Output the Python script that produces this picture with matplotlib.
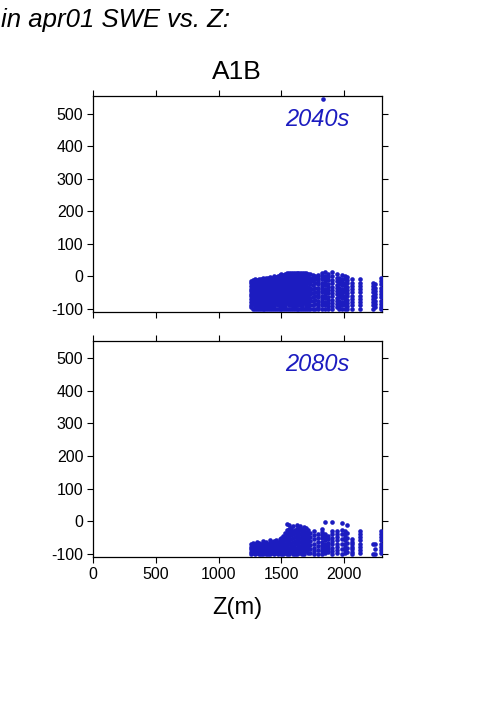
import matplotlib
matplotlib.use("Agg")
import matplotlib.pyplot as plt

plt.rcParams['font.family'] = ['Liberation Sans', 'DejaVu Sans']
plt.rcParams['axes.unicode_minus'] = False

# ---- data (Z in m, change in SWE) ----
z_2040 = [1260, 1275, 1290, 1305, 1320, 1335, 1350, 1365, 1380, 1395, 1410, 1425,
          1440, 1455, 1470, 1485, 1500, 1515, 1530, 1545, 1560, 1575, 1590, 1605,
          1620, 1635, 1650, 1665, 1680, 1695, 1710, 1730, 1750, 1770,
          1793, 1825, 1849, 1873, 1904, 1944, 1960, 1984, 2008, 2024, 2064, 2127,
          2231, 2247, 2290, 1830]
y_2040 = [
    [-15, -22, -30, -38, -45, -55, -62, -70, -78, -88, -95],
    [-12, -20, -28, -35, -42, -50, -58, -66, -75, -85, -100],
    [-10, -18, -25, -33, -40, -48, -57, -65, -72, -80, -92, -100],
    [-12, -20, -27, -35, -44, -52, -60, -70, -78, -87, -95, -100],
    [-8, -16, -24, -32, -40, -47, -55, -63, -73, -82, -90, -100],
    [-10, -18, -26, -34, -43, -50, -58, -67, -76, -85, -94, -100],
    [-6, -14, -22, -30, -38, -46, -54, -62, -70, -79, -88, -100],
    [-9, -17, -25, -33, -41, -49, -57, -66, -74, -83, -92, -100],
    [-4, -12, -20, -28, -36, -44, -52, -60, -69, -77, -86, -95, -100],
    [-7, -15, -23, -31, -39, -47, -55, -64, -72, -81, -90, -100],
    [-2, -10, -18, -26, -34, -42, -50, -59, -67, -76, -85, -94, -100],
    [-5, -13, -21, -29, -37, -45, -54, -62, -71, -80, -89, -100],
    [0, -8, -16, -24, -32, -40, -49, -57, -66, -74, -83, -92, -100],
    [-3, -11, -19, -27, -35, -44, -52, -60, -69, -78, -87, -100],
    [2, -6, -14, -22, -30, -38, -47, -55, -64, -72, -81, -90, -100],
    [4, -4, -12, -20, -28, -36, -45, -53, -62, -70, -79, -88, -100],
    [6, -2, -10, -18, -26, -34, -43, -51, -60, -68, -77, -86, -95, -100],
    [5, -3, -11, -19, -27, -35, -44, -52, -61, -70, -79, -88, -100],
    [8, 0, -8, -16, -24, -32, -41, -49, -58, -66, -75, -84, -93, -100],
    [9, 1, -7, -15, -23, -31, -40, -48, -57, -65, -74, -83, -100],
    [10, 2, -6, -14, -22, -30, -38, -47, -55, -64, -72, -81, -90, -100],
    [10, 3, -5, -13, -21, -29, -37, -46, -54, -63, -71, -80, -89, -100],
    [11, 2, -6, -14, -22, -30, -39, -47, -56, -64, -73, -82, -91, -100],
    [10, 1, -7, -15, -23, -31, -40, -48, -57, -65, -74, -83, -92, -100],
    [11, 3, -5, -13, -21, -29, -38, -46, -55, -63, -72, -81, -90, -100],
    [10, 2, -6, -14, -22, -30, -39, -47, -56, -64, -73, -82, -100],
    [11, 3, -5, -13, -21, -29, -37, -46, -54, -63, -71, -80, -89, -100],
    [10, 1, -7, -15, -23, -31, -40, -48, -57, -65, -74, -83, -92, -100],
    [10, 2, -6, -14, -22, -30, -39, -47, -56, -64, -73, -82, -100],
    [9, 0, -8, -16, -24, -32, -41, -49, -58, -66, -75, -84, -93, -100],
    [8, -2, -12, -22, -32, -42, -52, -62, -72, -82, -92, -100],
    [6, -4, -14, -25, -35, -46, -56, -66, -77, -88, -100],
    [4, -6, -16, -28, -40, -52, -64, -76, -88, -100],
    [2, -10, -22, -35, -48, -60, -72, -85, -100],
    [5, -5, -15, -25, -35, -45, -55, -65, -75, -85, -95, -100],
    [10, 0, -10, -20, -30, -40, -50, -60, -70, -80, -90, -100],
    [12, 2, -8, -18, -28, -38, -48, -58, -68, -78, -88, -100],
    [8, -3, -13, -23, -33, -43, -53, -63, -73, -83, -93, -100],
    [12, 0, -12, -22, -32, -42, -52, -62, -72, -82, -92, -100],
    [6, -6, -16, -26, -36, -46, -56, -66, -76, -86, -96],
    [-5, -15, -25, -35, -45, -55, -65, -75, -85, -95, -100],
    [5, -8, -18, -28, -38, -48, -58, -68, -78, -88, -100],
    [2, -10, -20, -30, -40, -50, -60, -70, -80, -90, -100],
    [-2, -12, -22, -32, -42, -52, -62, -72, -82, -92, -100],
    [-10, -20, -30, -40, -50, -60, -70, -80, -90, -100],
    [-10, -20, -30, -40, -50, -60, -70, -80, -90, -100],
    [-20, -30, -40, -50, -60, -70, -80, -90, -100],
    [-25, -35, -45, -55, -65, -75, -85, -95],
    [-5, -15, -25, -35, -45, -55, -65, -75, -85, -95, -100],
    [545],
]

z_2080 = [1260, 1275, 1290, 1305, 1320, 1335, 1350, 1365, 1380, 1395, 1410, 1425,
          1440, 1455, 1470, 1485, 1500, 1515, 1530, 1545, 1560, 1575, 1590, 1605,
          1620, 1635, 1650, 1665, 1680, 1695, 1710, 1730, 1760, 1790,
          1825, 1849, 1873, 1904, 1944, 1984, 2008, 2024, 2064, 2127, 2231, 2247, 2290]
y_2080 = [
    [-70, -78, -86, -94, -100],
    [-65, -74, -82, -90, -98],
    [-68, -76, -84, -92, -100],
    [-62, -70, -79, -88, -96],
    [-66, -75, -83, -91, -100],
    [-70, -78, -86, -94, -100],
    [-60, -68, -77, -85, -93, -100],
    [-66, -74, -82, -90, -98],
    [-62, -72, -80, -88, -96, -100],
    [-68, -76, -84, -92, -100],
    [-58, -66, -75, -83, -91, -100],
    [-64, -72, -80, -88, -96],
    [-60, -68, -77, -86, -94, -100],
    [-56, -65, -74, -82, -90, -98],
    [-62, -70, -78, -87, -95, -100],
    [-55, -63, -72, -80, -89, -97],
    [-50, -60, -68, -77, -86, -94, -100],
    [-45, -55, -65, -74, -83, -92, -100],
    [-35, -48, -58, -68, -78, -88, -96],
    [-8, -25, -38, -50, -62, -72, -82, -92, -100],
    [-12, -22, -35, -45, -58, -68, -80, -90, -100],
    [-20, -30, -42, -55, -65, -75, -86, -95],
    [-15, -28, -40, -52, -64, -74, -84, -94, -100],
    [-25, -35, -48, -60, -70, -82, -92, -100],
    [-10, -22, -35, -46, -58, -70, -80, -90, -100],
    [-18, -30, -42, -55, -66, -78, -88, -98],
    [-14, -26, -38, -50, -62, -74, -86, -96],
    [-22, -34, -46, -58, -70, -82, -94, -100],
    [-16, -28, -40, -52, -64, -76, -88, -100],
    [-20, -32, -44, -56, -68, -80, -92],
    [-25, -38, -50, -62, -74, -86, -98],
    [-35, -48, -60, -72, -84, -96],
    [-30, -42, -55, -68, -80, -92, -100],
    [-40, -52, -64, -76, -88, -100],
    [-22, -32, -42, -52, -62, -72, -82, -92, -100],
    [-3, -38, -48, -58, -68, -78, -88, -98],
    [-45, -55, -65, -75, -85, -95],
    [-3, -30, -40, -50, -60, -70, -80, -90, -100],
    [-28, -38, -48, -58, -68, -78, -88, -98],
    [-6, -25, -40, -55, -70, -85, -100],
    [-28, -38, -48, -58, -68, -78, -88, -98],
    [-12, -35, -50, -65, -80, -95],
    [-53, -62, -70, -78, -86, -94, -100],
    [-28, -38, -48, -58, -68, -78, -88, -98],
    [-68, -100],
    [-70, -85, -100],
    [-28, -38, -48, -58, -68, -78, -88, -98],
]

panel_labels = ["2040s", "2080s"]
x_ticks = [0, 500, 1000, 1500, 2000]
y_ticks = [-100, 0, 100, 200, 300, 400, 500]

blue = '#1c1cc0'


def flatten(zs, ys):
    xx, yy = [], []
    for z, col in zip(zs, ys):
        for v in col:
            xx.append(z)
            yy.append(v)
    return xx, yy


fig = plt.figure(figsize=(5.01, 7.09), dpi=100)
ax1 = fig.add_axes([0.1856, 0.560, 0.5768, 0.3047])
ax2 = fig.add_axes([0.1856, 0.2144, 0.5768, 0.3047])

for ax, zs, ys, lab, ylim in [(ax1, z_2040, y_2040, panel_labels[0], (-110, 555)),
                             (ax2, z_2080, y_2080, panel_labels[1], (-109, 552))]:
    xx, yy = flatten(zs, ys)
    ax.scatter(xx, yy, s=11, color=blue, linewidths=0, zorder=3, clip_on=True)
    ax.set_xlim(0, 2300)
    ax.set_ylim(*ylim)
    ax.set_xticks(x_ticks)
    ax.set_yticks(y_ticks)
    ax.tick_params(direction='out', length=4, width=0.8, labelsize=11.5,
                   top=True, right=True, pad=3)
    for sp in ax.spines.values():
        sp.set_linewidth(0.9)
    ax.text(0.775, 0.89, lab, transform=ax.transAxes, ha='center', va='center',
            fontsize=17, style='italic', color=blue)

ax1.tick_params(labelbottom=False)

fig.text(0.473, 0.898, "A1B", ha='center', va='center', fontsize=19)
fig.text(0.002, 0.962, "in apr01 SWE vs. Z:", ha='left', va='baseline',
         fontsize=18.5, style='italic')
fig.text(0.473, 0.134, "Z(m)", ha='center', va='baseline', fontsize=17)

fig.savefig("out.png", dpi=100)
